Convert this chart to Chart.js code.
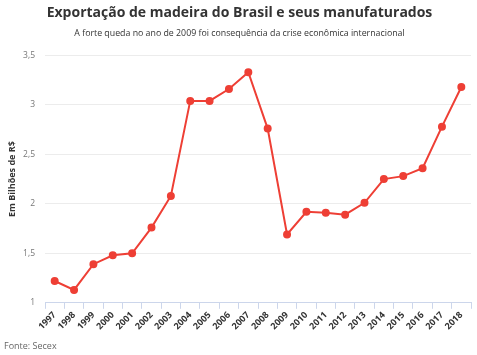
<!DOCTYPE html>
<html>
<head>
<meta charset="utf-8">
<script src="https://cdn.jsdelivr.net/npm/chart.js@4"></script>
<style>
html,body{margin:0;padding:0;background:#fff;}
#wrap{position:relative;width:477px;height:355px;}
</style>
</head>
<body>
<div id="wrap"><canvas id="c" width="477" height="355"></canvas></div>
<script>
const years = ['1997','1998','1999','2000','2001','2002','2003','2004','2005','2006','2007','2008','2009','2010','2011','2012','2013','2014','2015','2016','2017','2018'];
const exportValues = [1.22,1.13,1.39,1.48,1.50,1.76,2.08,3.04,3.04,3.16,3.33,2.76,1.69,1.92,1.91,1.89,2.01,2.25,2.28,2.36,2.78,3.18];
const yTicks = [1,1.5,2,2.5,3,3.5];
const titleText = 'Exportação de madeira do Brasil e seus manufaturados';
const subtitleText = 'A forte queda no ano de 2009 foi consequência da crise econômica internacional';
const yTitle = 'Em Bilhões de R$';
const sourceText = 'Fonte: Secex';

const footerPlugin = {
  id:'footer',
  afterDraw(chart){
    const ctx = chart.ctx;
    ctx.save();
    ctx.font = '9px "Open Sans"';
    ctx.fillStyle = '#666';
    ctx.textAlign = 'left';
    ctx.textBaseline = 'middle';
    ctx.fillText(sourceText, 4, 346);
    ctx.restore();
  }
};

new Chart(document.getElementById('c'), {
  type:'line',
  data:{
    labels: years,
    datasets:[{
      data: exportValues,
      borderColor:'#ee3f35',
      backgroundColor:'#ee3f35',
      borderWidth:2,
      pointRadius:3,
      pointBackgroundColor:'#ee3f35',
      pointBorderColor:'#ee3f35',
      tension:0
    }]
  },
  options:{
    responsive:false,
    animation:false,
    layout:{padding:{left:7,right:5,top:5,bottom:22}},
    plugins:{
      legend:{display:false},
      tooltip:{enabled:false},
      title:{display:true,text:titleText,color:'#333',font:{family:'Open Sans',size:14,weight:'bold'},padding:{top:0,bottom:4}},
      subtitle:{display:true,text:subtitleText,color:'#333',font:{family:'Open Sans',size:8.8},padding:{top:2,bottom:17}}
    },
    scales:{
      x:{
        offset:true,
        grid:{display:true,drawOnChartArea:false,drawTicks:true,tickLength:6,color:'#ccd6eb',offset:true},
        border:{display:true,color:'#ccd6eb'},
        ticks:{color:'#333',font:{family:'Open Sans',size:9,weight:'bold'},minRotation:45,maxRotation:45,padding:1,autoSkip:false}
      },
      y:{
        min:1,max:3.5,
        afterBuildTicks(axis){ axis.ticks = yTicks.map(v=>({value:v})); },
        afterFit(axis){ axis.width = 38; },
        grid:{color:'#ececec',drawTicks:false,lineWidth:1},
        border:{display:false},
        ticks:{color:'#777',font:{family:'Open Sans',size:8.5},padding:10,callback:v=>String(v).replace('.',',')},
        title:{display:true,text:yTitle,color:'#333',font:{family:'Open Sans',size:9,weight:'bold'},padding:{top:0,bottom:6}}
      }
    }
  },
  plugins:[footerPlugin]
});
</script>
</body>
</html>
